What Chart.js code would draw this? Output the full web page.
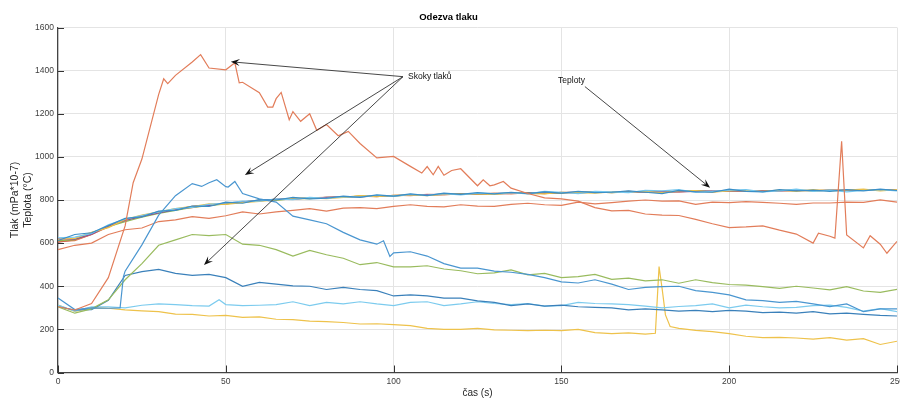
<!DOCTYPE html>
<html lang="cs">
<head>
<meta charset="utf-8">
<title>Odezva tlaku</title>
<script src="https://cdn.jsdelivr.net/npm/chart.js@4.4.1/dist/chart.umd.min.js"></script>
<style>
  html, body { margin: 0; padding: 0; background: #fff; }
</style>
</head>
<body>
<canvas id="graf" width="900" height="399"></canvas>
<script>
// Časová osa (s), krok 5 s
const cas = [0,5,10,15,20,25,30,35,40,45,50,55,60,65,70,75,80,85,90,95,100,105,110,115,120,125,
  130,135,140,145,150,155,160,165,170,175,180,185,190,195,200,205,210,215,220,225,230,235,240,245,250];

const xTicks = [0, 50, 100, 150, 200, 250];
const yTicks = [0, 200, 400, 600, 800, 1000, 1200, 1400, 1600];

// Tlaky
const tlakOranzovy = [305,290,320,440,680, 990,1290,1378,1440,1412, 1404,1346,1298,1270,1210,
  1200,1150,1108,1062,995, 1002,956,955,915,945, 866,870,855,830,810, 805,795,765,750,752,
  735,730,728,710,690, 672,675,680,660,642, 600,632,638,578,595, 608];
// mezilehlé body (zuby a špička)
const tlakOranzovyDoplnekCas = [22.4,31.5,32.7,42.5,52.7,54,62.5,64,66.5,68.9,72.3,77.1,83.5,86.5,
  108.4,111.8,113.3,117.3,126.7,128.7,132.7,226.6,231.5,233.5,242,247];
const tlakOranzovyDoplnek = [880,1362,1340,1474,1436,1343,1231,1231,1299,1172,1165,1123,1098,1118,
  925,917,956,937,894,866,886,646,623,1072,634,553];

const tlakModry = [345,292,300,298,470, 592,730,820,876,880, 862,830,805,790,725, 708,690,650,615,595,
  555,560,540,505,484, 484,470,465,455,440, 420,415,430,410,385, 395,398,400,380,372,
  360,337,333,325,330, 318,306,318,282,295, 295];
const tlakModryDoplnekCas = [18.5,19.5,42.8,47.3,50.7,52.7,97,98.9];
const tlakModryDoplnek = [300,445,863,894,860,886,611,538];

const tlakZeleny = [305,275,295,337,430, 505,590,615,640,635, 640,595,590,570,540, 566,546,530,500,510,
  490,490,495,480,472, 458,462,476,453,460, 440,445,455,432,438, 425,430,414,430,417,
  408,405,398,390,400, 392,383,398,378,372, 386];

const tlakTmavyModry = [305,290,292,335,450, 468,478,460,450,455, 440,400,418,410,402, 400,385,395,385,380,
  355,360,355,345,345, 332,325,310,318,308, 312,305,302,300,290, 295,290,285,288,282,
  288,285,278,280,275, 282,272,275,270,265, 262];

const tlakSvetleModry = [313,285,305,305,300, 312,318,315,310,308, 315,310,312,315,328, 310,325,318,328,318,
  310,325,328,310,318, 328,320,315,320,308, 310,325,320,318,315, 308,300,306,310,318,
  300,312,305,300,302, 310,312,302,285,296, 282];
const tlakSvetleModryDoplnekCas = [48];
const tlakSvetleModryDoplnek = [337];

const tlakZluty = [313,283,300,298,290, 286,282,271,270,262, 265,256,258,247,245, 238,236,232,225,226,
  222,217,205,200,200, 205,198,196,194,196, 194,200,185,180,184, 178,390,205,195,190,
  180,168,162,163,160, 155,162,150,157,130, 145];
const tlakZlutyDoplnekCas = [178,179.1,181,182.4];
const tlakZlutyDoplnek = [182,491,267,213];

// Teploty
const teplotaDolni = [570,590,600,640,662, 670,700,708,723,715, 727,745,735,745,752, 760,748,762,765,760,
  770,778,770,768,778, 772,770,780,785,778, 775,790,782,788,795, 800,795,796,780,790,
  788,792,789,785,780, 786,786,790,789,801, 790];
const teplota1 = [612,640,648,682,715, 722,748,752,772,770, 790,785,802,800,812, 805,808,818,812,824,
  818,828,820,832,826, 834,828,836,830,838, 832,840,834,836,842, 836,830,845,838,836,
  850,840,838,848,842, 846,840,848,842,850, 844];
const teplota2 = [608,612,640,675,706, 728,740,758,765,778, 782,792,796,804,804, 810,812,812,818,816,
  822,820,826,824,830, 826,832,828,834,830, 836,832,838,834,840, 836,840,838,842,838,
  844,840,844,842,846, 842,846,844,848,844, 848];
const teplota3 = [618,622,650,672,710, 730,745,760,770,782, 780,788,794,800,808, 810,806,812,820,815,
  822,824,820,828,826, 830,826,834,830,828, 836,834,832,838,836, 840,834,842,844,836,
  842,844,840,846,840, 848,842,846,850,842, 848];
const teplota4 = [620,618,642,680,705, 724,740,755,768,775, 786,792,798,803,805, 808,812,815,815,819,
  820,823,825,826,827, 829,830,831,832,833, 834,835,836,837,837, 838,839,839,840,841,
  841,842,843,843,844, 844,845,845,846,846, 847];
const teplota5 = [612,616,648,676,700, 720,738,752,766,774, 782,790,800,798,806, 806,812,812,818,818,
  818,824,822,826,830, 828,828,832,834,832, 832,836,838,834,838, 840,836,840,842,840,
  842,844,840,844,846, 842,846,844,846,848, 846];
const teplota6 = [625,628,645,685,712, 728,745,760,766,780, 786,795,795,805,802, 812,808,816,814,822,
  818,826,822,830,824, 832,830,834,828,840, 836,830,840,838,834, 845,842,848,836,840,
  846,848,838,842,850, 840,846,838,844,848, 842];
const teplota7 = [605,615,640,678,708, 725,742,756,770,776, 784,790,798,802,806, 808,811,814,816,818,
  820,822,824,826,828, 829,830,831,832,833, 834,835,836,836,837, 838,838,839,840,840,
  841,842,842,843,843, 844,844,845,845,846, 846];

// Popisky se šipkami (v jednotkách dat)
const popisky = [
  { text: 'Skoky tlaků', x: 104.3, y: 1371 },
  { text: 'Teploty', x: 149.0, y: 1352 }
];
const sipky = [
  { od: [102.8, 1372], k: [51.5, 1441] },
  { od: [102.8, 1372], k: [55.7, 916] },
  { od: [102.8, 1372], k: [43.5, 499] },
  { od: [157.0, 1326], k: [194.3, 857] }
];

const PISMO = "'Liberation Sans', Arial, sans-serif";

function sestav(hodnoty, extraCas, extraHodnoty) {
  const body = cas.map((t, i) => ({ x: t, y: hodnoty[i] }));
  if (extraCas) {
    extraCas.forEach((t, i) => body.push({ x: t, y: extraHodnoty[i] }));
  }
  body.sort((a, b) => a.x - b.x);
  return body;
}

function rada(popis, data, barva) {
  return {
    label: popis,
    data: data,
    borderColor: barva,
    backgroundColor: barva,
    borderWidth: 1.2,
    pointRadius: 0,
    tension: 0,
    fill: false
  };
}

// Vnitřní značky os (MATLAB styl)
const znackyOs = {
  id: 'znackyOs',
  afterDraw(chart) {
    const { ctx, chartArea, scales } = chart;
    ctx.save();
    ctx.strokeStyle = '#333';
    ctx.lineWidth = 1;
    yTicks.forEach(v => {
      const y = Math.round(scales.y.getPixelForValue(v)) + 0.5;
      ctx.beginPath();
      ctx.moveTo(chartArea.left, y);
      ctx.lineTo(chartArea.left + 6, y);
      ctx.stroke();
    });
    xTicks.forEach(v => {
      const x = Math.round(scales.x.getPixelForValue(v)) + 0.5;
      ctx.beginPath();
      ctx.moveTo(x, chartArea.bottom);
      ctx.lineTo(x, chartArea.bottom - 7);
      ctx.stroke();
    });
    ctx.restore();
  }
};

// Šipky a texty
const anotace = {
  id: 'anotace',
  afterDatasetsDraw(chart) {
    const { ctx, scales } = chart;
    ctx.save();
    sipky.forEach(s => {
      const x1 = scales.x.getPixelForValue(s.od[0]);
      const y1 = scales.y.getPixelForValue(s.od[1]);
      const x2 = scales.x.getPixelForValue(s.k[0]);
      const y2 = scales.y.getPixelForValue(s.k[1]);
      const uhel = Math.atan2(y2 - y1, x2 - x1);
      const delka = 9, sirka = 3.5;
      ctx.strokeStyle = '#333';
      ctx.lineWidth = 0.9;
      ctx.beginPath();
      ctx.moveTo(x1, y1);
      ctx.lineTo(x2 - Math.cos(uhel) * delka * 0.6, y2 - Math.sin(uhel) * delka * 0.6);
      ctx.stroke();
      const cx = Math.cos(uhel), sy = Math.sin(uhel);
      ctx.fillStyle = '#111';
      ctx.beginPath();
      ctx.moveTo(x2, y2);
      ctx.lineTo(x2 - cx * delka - sy * sirka, y2 - sy * delka + cx * sirka);
      ctx.lineTo(x2 - cx * delka * 0.6, y2 - sy * delka * 0.6);
      ctx.lineTo(x2 - cx * delka + sy * sirka, y2 - sy * delka - cx * sirka);
      ctx.closePath();
      ctx.fill();
    });
    ctx.fillStyle = '#111';
    ctx.font = '8.5px ' + PISMO;
    ctx.textAlign = 'left';
    ctx.textBaseline = 'middle';
    popisky.forEach(p => {
      ctx.fillText(p.text, scales.x.getPixelForValue(p.x), scales.y.getPixelForValue(p.y));
    });
    ctx.restore();
  }
};

const ctx = document.getElementById('graf').getContext('2d');
new Chart(ctx, {
  type: 'line',
  data: {
    datasets: [
      rada('Tlak 1', sestav(tlakOranzovy, tlakOranzovyDoplnekCas, tlakOranzovyDoplnek), '#e27d5a'),
      rada('Tlak 2', sestav(tlakModry, tlakModryDoplnekCas, tlakModryDoplnek), '#4a96d0'),
      rada('Tlak 3', sestav(tlakZeleny), '#99bb5e'),
      rada('Tlak 4', sestav(tlakTmavyModry), '#3a80ba'),
      rada('Tlak 5', sestav(tlakSvetleModry, tlakSvetleModryDoplnekCas, tlakSvetleModryDoplnek), '#7ccbee'),
      rada('Tlak 6', sestav(tlakZluty, tlakZlutyDoplnekCas, tlakZlutyDoplnek), '#eec24b'),
      rada('Teplota 0', sestav(teplotaDolni), '#e27d5a'),
      rada('Teplota 1', sestav(teplota1), '#3a8fc8'),
      rada('Teplota 6', sestav(teplota6), '#74c6ee'),
      rada('Teplota 3', sestav(teplota3), '#edc048'),
      rada('Teplota 4', sestav(teplota4), '#8c4f9a'),
      rada('Teplota 5', sestav(teplota5), '#8fba52'),
      rada('Teplota 2', sestav(teplota2), '#df7a52'),
      rada('Teplota 7', sestav(teplota7), '#a83b45')
    ]
  },
  options: {
    responsive: false,
    animation: false,
    layout: { padding: { left: 0, right: 3, top: 0, bottom: 0 } },
    plugins: {
      legend: { display: false },
      tooltip: { enabled: false },
      title: {
        display: true,
        text: 'Odezva tlaku',
        color: '#000',
        font: { family: PISMO, size: 9.5, weight: 'bold' },
        padding: { top: 12, bottom: 4.1 }
      }
    },
    scales: {
      x: {
        type: 'linear',
        min: 0,
        max: 250,
        afterBuildTicks: s => { s.ticks = xTicks.map(v => ({ value: v })); },
        afterFit: s => { s.height = 26.5; s.paddingLeft = 0; s.paddingRight = 0; },
        grid: { color: '#e4e4e4', lineWidth: 1, drawTicks: false },
        border: { display: true, color: '#444', width: 1.2 },
        ticks: {
          autoSkip: false, maxRotation: 0, padding: 4, color: '#404040',
          font: { family: PISMO, size: 8.5 },
          callback: v => String(v)
        },
        title: {
          display: true, text: 'čas (s)', color: '#262626',
          font: { family: PISMO, size: 10 }, padding: { top: 0, bottom: 0 }
        }
      },
      y: {
        min: 0,
        max: 1600,
        afterBuildTicks: s => { s.ticks = yTicks.map(v => ({ value: v })); },
        afterFit: s => { s.width = 58; },
        grid: { color: '#e4e4e4', lineWidth: 1, drawTicks: false },
        border: { display: true, color: '#444', width: 1.2 },
        ticks: {
          padding: 4, color: '#404040',
          font: { family: PISMO, size: 8.5 },
          callback: v => String(v)
        },
        title: {
          display: true, text: ['Tlak (mPa*10-7)', 'Teplota (°C)'], color: '#262626',
          font: { family: PISMO, size: 10.5, lineHeight: 1.25 }, padding: { top: 8.4, bottom: 0 }
        }
      }
    }
  },
  plugins: [znackyOs, anotace]
});
</script>
</body>
</html>
